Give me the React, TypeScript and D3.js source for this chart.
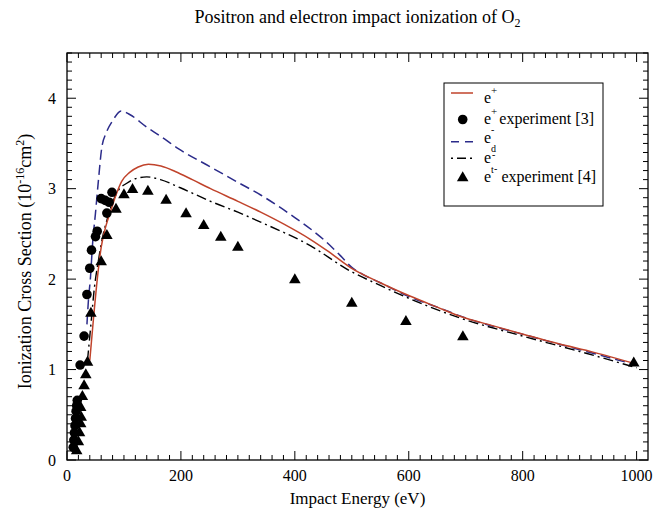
import React from "react";
import * as d3 from "d3";

const ePosE = [40, 47, 54, 60, 68, 76, 86, 96, 110, 125, 143, 165, 190, 220, 252, 300, 340, 380, 427, 460, 497, 550, 603, 650, 690, 750, 807, 860, 925, 1000];
const ePosS = [1.10, 1.60, 2.05, 2.35, 2.58, 2.74, 2.93, 3.08, 3.18, 3.24, 3.27, 3.25, 3.19, 3.10, 3.00, 2.86, 2.74, 2.61, 2.44, 2.30, 2.13, 1.96, 1.81, 1.69, 1.59, 1.48, 1.38, 1.29, 1.19, 1.06];

const eDE = [35, 38, 41, 45, 50, 55, 61, 69, 80, 95, 110, 140, 164, 196, 252, 300, 340, 400, 450, 480, 500, 520, 550, 603, 650, 700, 800, 900, 1000];
const eDS = [1.50, 1.80, 2.00, 2.40, 2.73, 3.08, 3.45, 3.62, 3.75, 3.86, 3.82, 3.68, 3.58, 3.44, 3.24, 3.07, 2.93, 2.68, 2.44, 2.26, 2.13, 2.05, 1.96, 1.80, 1.69, 1.57, 1.39, 1.22, 1.05];

const eTE = [36, 42, 48, 55, 62, 70, 80, 90, 105, 120, 140, 164, 199, 252, 300, 340, 427, 497, 550, 603, 690, 800, 900, 1000];
const eTS = [1.10, 1.50, 1.90, 2.20, 2.45, 2.65, 2.85, 2.98, 3.06, 3.11, 3.13, 3.10, 3.01, 2.86, 2.74, 2.63, 2.37, 2.09, 1.93, 1.78, 1.57, 1.37, 1.20, 1.02];

const posExpE = [11, 12, 13, 14, 15, 16, 17, 18, 23, 30, 35, 40, 43, 50, 53, 60, 67, 74, 70, 79];
const posExpS = [0.14, 0.22, 0.30, 0.38, 0.46, 0.54, 0.60, 0.66, 1.05, 1.37, 1.83, 2.12, 2.32, 2.47, 2.53, 2.89, 2.87, 2.85, 2.73, 2.96];

const elExpE = [17, 20, 22, 24, 25, 24, 27, 30, 33, 36, 42, 60, 70, 86, 100, 115, 142, 174, 209, 240, 270, 300, 400, 500, 595, 695, 995];
const elExpS = [0.10, 0.20, 0.30, 0.40, 0.47, 0.58, 0.70, 0.82, 0.94, 1.08, 1.62, 2.19, 2.48, 2.77, 2.93, 2.99, 2.97, 2.87, 2.72, 2.59, 2.46, 2.35, 1.99, 1.73, 1.53, 1.36, 1.07];

const xMajor = [0, 200, 400, 600, 800, 1000];
const yMajor = [0, 1, 2, 3, 4];

const W = 654, H = 509;
const L = 67, R = 648, T = 53, B = 460;
const FONT = "'Liberation Serif', 'Times New Roman', 'DejaVu Serif', serif";
const RED = "#c0432b";
const BLUE = "#2b2b8a";

export default function App() {
  const x = d3.scaleLinear().domain([0, 1020]).range([L, R]);
  const y = d3.scaleLinear().domain([0, 4.5]).range([B, T]);
  const line = d3.line<[number, number]>().x(d => x(d[0])).y(d => y(d[1])).curve(d3.curveMonotoneX);
  const zip = (a: number[], b: number[]) => a.map((v, i) => [v, b[i]] as [number, number]);

  const xMinor = d3.range(0, 1020, 20);
  const yMinor = d3.range(0, 4.5001, 0.1).map(v => Math.round(v * 10) / 10);
  const tri = d3.symbol().type(d3.symbolTriangle).size(58)();

  const lx = 444, ly = 83;
  const ts = { fontFamily: FONT };

  return (
    <svg width={W} height={H} style={{ position: "absolute", left: 0, top: 0, fontFamily: FONT }}>
      <rect width={W} height={H} fill="#fff" />
      <text style={ts} x={(L + R) / 2} y={23} textAnchor="middle" fontSize={18}>
        Positron and electron impact ionization of O<tspan fontSize={12} dy={4}>2</tspan>
      </text>

      <defs>
        <clipPath id="clip"><rect x={L} y={T} width={R - L} height={B - T} /></clipPath>
      </defs>

      <g clipPath="url(#clip)">
        <path d={line(zip(eDE, eDS)) || ""} fill="none" stroke={BLUE} strokeWidth={1.5} strokeDasharray="10,5" />
        <path d={line(zip(eTE, eTS)) || ""} fill="none" stroke="#000" strokeWidth={1.4} strokeDasharray="10,4,2,4" />
        <path d={line(zip(ePosE, ePosS)) || ""} fill="none" stroke={RED} strokeWidth={1.5} />
        {posExpE.map((e, i) => (
          <circle key={"c" + i} cx={x(e)} cy={y(posExpS[i])} r={4.8} fill="#000" />
        ))}
        {elExpE.map((e, i) => (
          <path key={"t" + i} d={tri || ""} transform={`translate(${x(e)},${y(elExpS[i])})`} fill="#000" />
        ))}
      </g>

      <rect x={L} y={T} width={R - L} height={B - T} fill="none" stroke="#000" strokeWidth={1.3} />
      {xMinor.map(v => {
        const len = v % 200 === 0 ? 9 : 5;
        return (
          <g key={"xt" + v}>
            <line x1={x(v)} x2={x(v)} y1={B} y2={B - len} stroke="#000" strokeWidth={1} />
            <line x1={x(v)} x2={x(v)} y1={T} y2={T + len} stroke="#000" strokeWidth={1} />
          </g>
        );
      })}
      {yMinor.map(v => {
        const len = Math.abs(v - Math.round(v)) < 1e-6 ? 9 : 5;
        return (
          <g key={"yt" + v}>
            <line x1={L} x2={L + len} y1={y(v)} y2={y(v)} stroke="#000" strokeWidth={1} />
            <line x1={R} x2={R - len} y1={y(v)} y2={y(v)} stroke="#000" strokeWidth={1} />
          </g>
        );
      })}
      {xMajor.map(v => (
        <text style={ts} key={"xl" + v} x={x(v)} y={481} textAnchor="middle" fontSize={16}>{v}</text>
      ))}
      {yMajor.map(v => (
        <text style={ts} key={"yl" + v} x={56} y={y(v) + 5.5} textAnchor="end" fontSize={16}>{v}</text>
      ))}
      <text style={ts} x={(L + R) / 2} y={504} textAnchor="middle" fontSize={17}>Impact Energy (eV)</text>
      <text style={ts} transform={`translate(31,${(T + B) / 2 + 5}) rotate(-90)`} textAnchor="middle" fontSize={18}>
        Ionization Cross Section (10<tspan fontSize={12} dy={-7}>-16</tspan><tspan dy={7}>cm</tspan><tspan fontSize={12} dy={-7}>2</tspan><tspan dy={7}>)</tspan>
      </text>

      <rect x={lx} y={ly} width={159} height={123} fill="#fff" stroke="#000" strokeWidth={1} />
      <line x1={451} x2={473} y1={93} y2={93} stroke={RED} strokeWidth={1.5} />
      <text style={ts} x={484} y={103} fontSize={16}>e<tspan fontSize={11} dy={-9}>+</tspan></text>

      <circle cx={462.7} cy={119.5} r={4.8} fill="#000" />
      <text style={ts} x={484} y={124} fontSize={16}>e<tspan fontSize={11} dy={-9}>+</tspan><tspan dy={9} dx={2}>experiment [3]</tspan></text>

      <line x1={451} x2={473} y1={141.7} y2={141.7} stroke={BLUE} strokeWidth={1.5} strokeDasharray="8,6" />
      <text style={ts} x={484} y={143} fontSize={16}>e</text>
      <text style={ts} x={491} y={133} fontSize={10}>-</text>
      <text style={ts} x={491} y={151.5} fontSize={10}>d</text>

      <line x1={451} x2={473} y1={158.3} y2={158.3} stroke="#000" strokeWidth={1.4} strokeDasharray="2,4,9,4,2" />
      <text style={ts} x={484} y={162.5} fontSize={16}>e</text>
      <text style={ts} x={492} y={157.5} fontSize={10}>-</text>
      <text style={ts} x={491} y={173} fontSize={10}>t</text>

      <path d={tri || ""} transform="translate(462.7,178)" fill="#000" />
      <text style={ts} x={484} y={182} fontSize={16}>e<tspan fontSize={10} dy={-10} dx={3}>-</tspan><tspan dy={10} dx={4}>experiment [4]</tspan></text>
    </svg>
  );
}
